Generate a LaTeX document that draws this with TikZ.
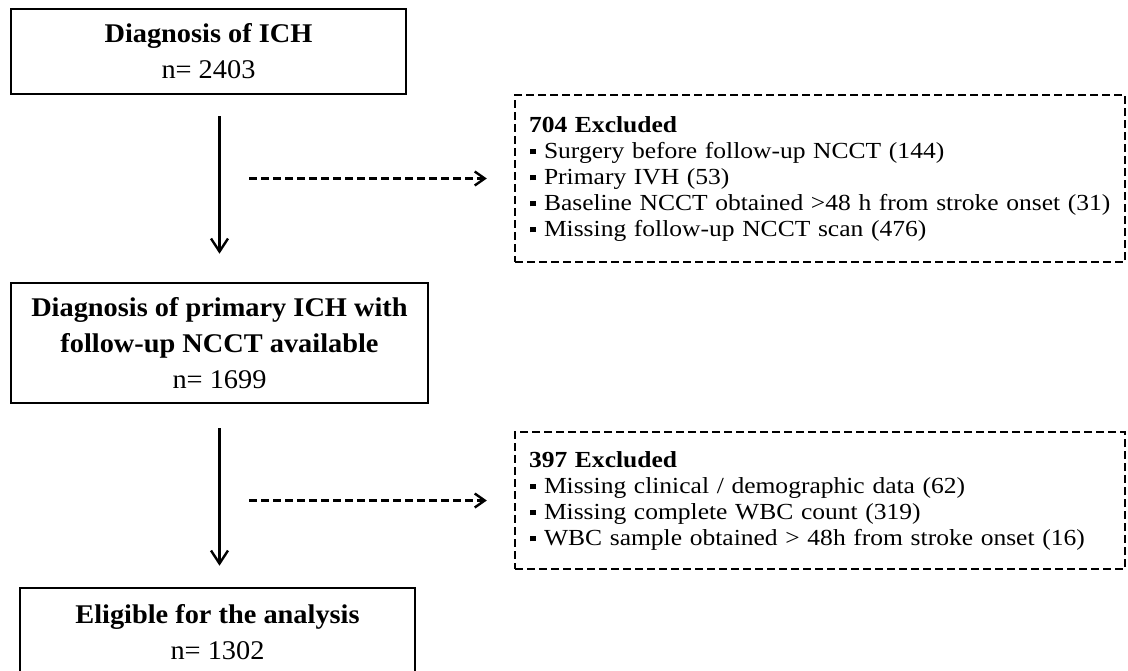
\documentclass[tikz,border=0pt]{standalone}
\usepackage{fontspec}
\setmainfont{Liberation Serif}
\newfontfamily\boxfont[FakeStretch=1.05]{Liberation Serif}
\newfontfamily\exfont[FakeStretch=1.11]{Liberation Serif}
\usetikzlibrary{arrows.meta}
\newcommand{\exitem}{\hspace*{0.5pt}\rule[1.8pt]{2.8pt}{2.8pt}\hspace{4.2pt}}
\tikzset{
    mainbox/.style={draw, line width=1.3pt, align=center, inner sep=0pt,
        font=\boxfont\fontsize{13.5pt}{18pt}\selectfont},
    exbox/.style={draw, dash pattern=on 4pt off 2pt, line width=1.2pt, align=left,
        inner xsep=7pt, inner ysep=0pt, text width=291pt,
        font=\exfont\fontsize{11.5pt}{13pt}\selectfont},
    arr/.style={line width=1.2pt, -{Straight Barb[length=6.5pt,width=8.5pt]}},
    dasharr/.style={line width=1.2pt, dash pattern=on 4pt off 2pt,
        -{Straight Barb[length=5pt,width=7pt]}}
}
\begin{document}
\begin{tikzpicture}[x=0.5pt,y=-0.5pt]
            \useasboundingbox (0,0) rectangle (1128,670);
            \node[mainbox, minimum width=197.5pt, minimum height=42.5pt] (b1) at (208.5,51.5)
                {\textbf{Diagnosis of ICH}\\ n= 2403};
            \node[mainbox, minimum width=208.5pt, minimum height=60pt] (b2) at (219.5,343)
                {\textbf{Diagnosis of primary ICH with}\\ \textbf{follow-up NCCT available}\\ n= 1699};
            \node[mainbox, minimum width=197.5pt, minimum height=44pt] (b3) at (217.5,632)
                {\textbf{Eligible for the analysis}\\ n= 1302};
            \node[exbox, minimum height=83.5pt] (ex1) at (820,178.5)
                {\textbf{704 Excluded}\\
                 \exitem Surgery before follow-up NCCT (144)\\
                 \exitem Primary IVH (53)\\
                 \exitem Baseline NCCT obtained >48 h from stroke onset (31)\\
                 \exitem Missing follow-up NCCT scan (476)};
            \node[exbox, minimum height=68.5pt] (ex2) at (820,500.5)
                {\textbf{397 Excluded}\\
                 \exitem Missing clinical / demographic data (62)\\
                 \exitem Missing complete WBC count (319)\\
                 \exitem WBC sample obtained > 48h from stroke onset (16)};
            \draw[arr, shorten <=10.5pt, shorten >=14pt] (b1.south -| b2.north) -- (b2.north);
            \draw[arr, shorten <=12pt, shorten >=10.5pt] (b2.south) -- (b3.north -| b2.south);
            \draw[dasharr, shorten <=14.75pt, shorten >=13.5pt] (ex1.west -| b2.north) -- (ex1.west);
            \draw[dasharr, shorten <=14.75pt, shorten >=13.5pt] (ex2.west -| b2.south) -- (ex2.west);
        \end{tikzpicture}
\end{document}
